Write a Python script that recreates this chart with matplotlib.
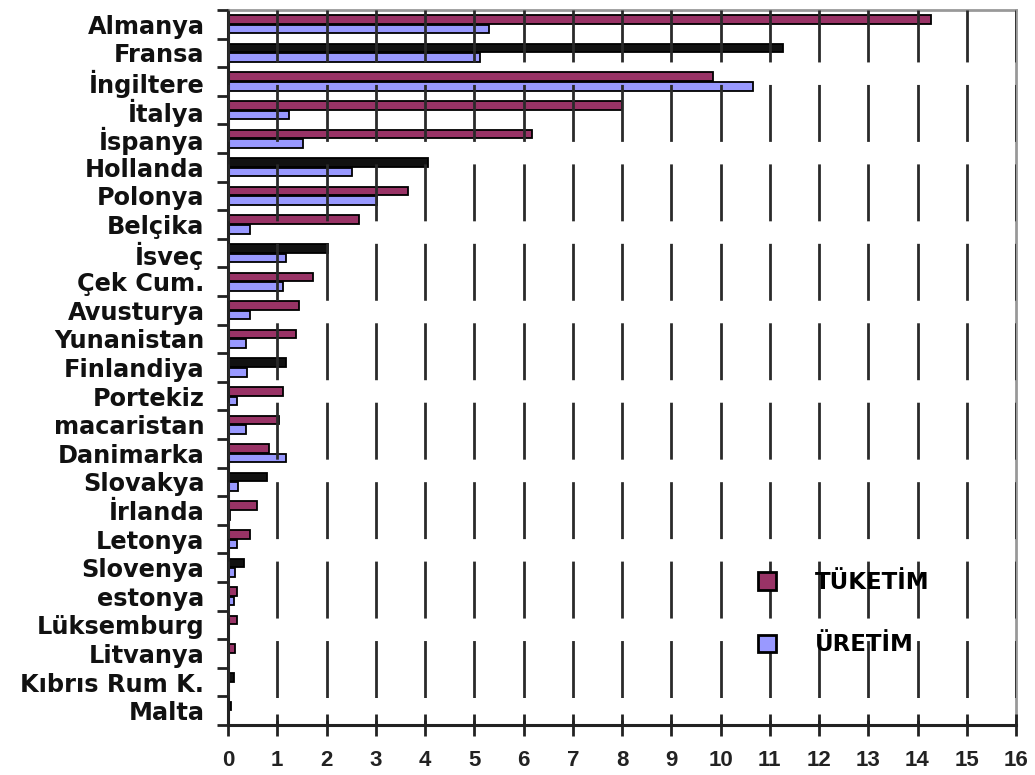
import matplotlib
matplotlib.use("Agg")
import matplotlib.pyplot as plt
from matplotlib.patches import Patch
import numpy as np

plt.rcParams['lines.scale_dashes'] = False

countries = ["Almanya", "Fransa", "İngiltere", "İtalya", "İspanya", "Hollanda",
             "Polonya", "Belçika", "İsveç", "Çek Cum.", "Avusturya", "Yunanistan",
             "Finlandiya", "Portekiz", "macaristan", "Danimarka", "Slovakya",
             "İrlanda", "Letonya", "Slovenya", "estonya", "Lüksemburg",
             "Litvanya", "Kıbrıs Rum K.", "Malta"]
tuketim = [14.27, 11.26, 9.84, 8.0, 6.18, 4.06, 3.65, 2.66, 2.04, 1.72, 1.45,
           1.38, 1.18, 1.11, 1.04, 0.84, 0.79, 0.58, 0.45, 0.33, 0.19, 0.19,
           0.14, 0.13, 0.06]
uretim = [5.3, 5.12, 10.65, 1.24, 1.52, 2.51, 3.02, 0.45, 1.18, 1.11, 0.45,
          0.37, 0.38, 0.18, 0.37, 1.18, 0.21, 0.05, 0.19, 0.14, 0.12, 0.0,
          0.0, 0.0, 0.0]
series_names = ["TÜKETİM", "ÜRETİM"]
xticks = list(range(0, 17))

MAROON = "#993366"
LILAC = "#9999FF"
# bars that appear rendered black in the reference image
black_t = {"Fransa", "Hollanda", "İsveç", "Finlandiya", "Slovakya", "Slovenya",
           "Kıbrıs Rum K.", "Malta"}
black_u = {"İrlanda"}
tcolors = ["#111111" if c in black_t else MAROON for c in countries]
ucolors = ["#111111" if c in black_u else LILAC for c in countries]

W, H = 1035, 775
AX_L, AX_R, AX_T, AX_B = 228, 1016, 10, 725  # pixel box (from top-left)

fig = plt.figure(figsize=(W / 100, H / 100), dpi=100)
ax = fig.add_axes([AX_L / W, (H - AX_B) / H, (AX_R - AX_L) / W, (AX_B - AX_T) / H])

y = np.arange(len(countries))
h = 0.3
off = 0.17
ax.barh(y - off, tuketim, height=h, color=tcolors, edgecolor="black",
        linewidth=1.3, zorder=2)
ax.barh(y + off, uretim, height=h, color=ucolors, edgecolor="black",
        linewidth=1.3, zorder=2)

ax.set_xlim(0, 16)
ax.set_ylim(len(countries) - 0.5, -0.5)
ax.set_xticks(xticks)
ax.set_xticklabels([str(t) for t in xticks], fontfamily="Liberation Sans",
                   fontweight="bold", fontsize=16, color="#222222")
ax.set_yticks(y)
ax.set_yticklabels(countries, fontfamily="DejaVu Sans", fontweight="bold",
                   fontsize=17.3, color="#111111")
ax.set_yticks(np.arange(-0.5, len(countries), 1.0), minor=True)
ax.tick_params(axis="y", which="major", length=0, pad=17)
ax.tick_params(axis="y", which="minor", length=8, width=2, direction="out",
               color="#222222")
ax.tick_params(axis="x", which="major", length=16, width=2, direction="inout",
               pad=10, color="#222222")

ax.set_axisbelow(False)
ax.grid(axis="x", which="major", color="#2a2a2a", linewidth=2.0,
        linestyle=(37.4, (41.0, 16.2)), zorder=3)

for s in ("left", "bottom"):
    ax.spines[s].set_color("#222222")
    ax.spines[s].set_linewidth(2.2)
for s in ("top", "right"):
    ax.spines[s].set_color("#999999")
    ax.spines[s].set_linewidth(2.0)

handles = [Patch(facecolor=MAROON, edgecolor="black", linewidth=2),
           Patch(facecolor=LILAC, edgecolor="black", linewidth=2)]
leg_x, leg_y = 758, 571
ax.legend(handles, series_names, loc="upper left",
          bbox_to_anchor=((leg_x - AX_L) / (AX_R - AX_L),
                          (AX_B - leg_y) / (AX_B - AX_T)),
          frameon=False, handlelength=0.8, handleheight=0.8,
          handletextpad=1.7, labelspacing=1.72,
          prop={"family": "DejaVu Sans", "weight": "bold", "size": 16.5},
          borderaxespad=0, borderpad=0)

fig.savefig("out.png", dpi=100, facecolor="white")
